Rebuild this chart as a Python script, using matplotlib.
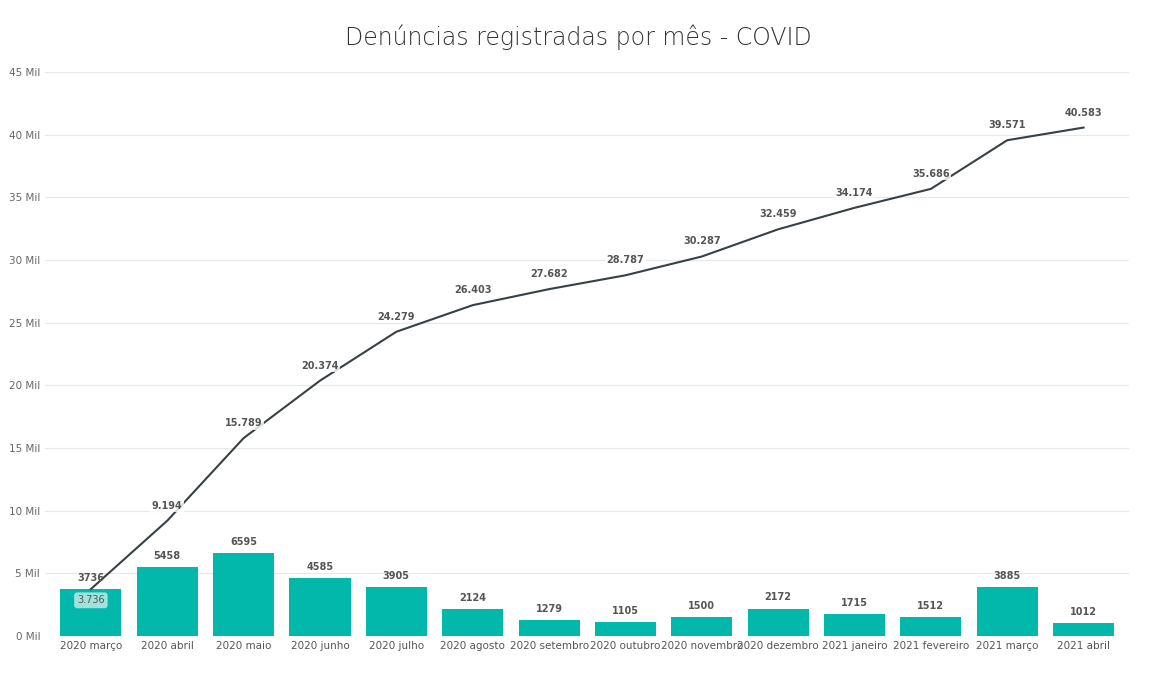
import matplotlib
matplotlib.use("Agg")
import matplotlib.pyplot as plt

months = ["2020 março","2020 abril","2020 maio","2020 junho","2020 julho","2020 agosto",
          "2020 setembro","2020 outubro","2020 novembro","2020 dezembro","2021 janeiro",
          "2021 fevereiro","2021 março","2021 abril"]
monthly = [3736,5458,6595,4585,3905,2124,1279,1105,1500,2172,1715,1512,3885,1012]
cumulative = [3736,9194,15789,20374,24279,26403,27682,28787,30287,32459,34174,35686,39571,40583]
yticks = [0,5000,10000,15000,20000,25000,30000,35000,40000,45000]
ylabels = ["0 Mil","5 Mil","10 Mil","15 Mil","20 Mil","25 Mil","30 Mil","35 Mil","40 Mil","45 Mil"]

fig = plt.figure(figsize=(11.56,6.75), dpi=100)
ax = fig.add_axes([0.039,0.058,0.938,0.835])
x = list(range(len(months)))
ax.bar(x, monthly, width=0.8, color="#01B8AA", zorder=2)
ax.plot(x, cumulative, color="#374045", lw=1.5, zorder=3)
for i,v in enumerate(monthly):
    ax.text(i, v+500, str(v), ha="center", va="bottom", fontsize=7, color="#555555", fontweight="bold", zorder=4)
for i,v in enumerate(cumulative):
    s = f"{v/1000:.3f}"
    if i == 0:
        ax.text(i, v-900, s, ha="center", va="center", fontsize=7, color="#555555",
                bbox=dict(boxstyle="round,pad=0.3", fc="#9fe3dc", ec="none"), zorder=5)
    else:
        ax.text(i, v+800, s, ha="center", va="bottom", fontsize=7, color="#555555", fontweight="bold",
                bbox=dict(boxstyle="square,pad=0.15", fc="white", ec="none", alpha=0.8), zorder=4)
ax.set_xlim(-0.6, len(months)-0.4)
ax.set_ylim(0,45000)
ax.set_yticks(yticks)
ax.set_yticklabels(ylabels, fontsize=7.5, color="#666666")
ax.set_xticks(x)
ax.set_xticklabels(months, fontsize=7.5, color="#555555")
ax.tick_params(length=0)
ax.grid(axis="y", color="#e8e8e8", lw=0.8, zorder=0)
for s in ax.spines.values():
    s.set_visible(False)
fig.text(0.5, 0.945, "Denúncias registradas por mês - COVID", ha="center", va="center",
         fontsize=17, color="#333333", family="DejaVu Sans", fontweight="light")
fig.savefig("out.png", dpi=100)
